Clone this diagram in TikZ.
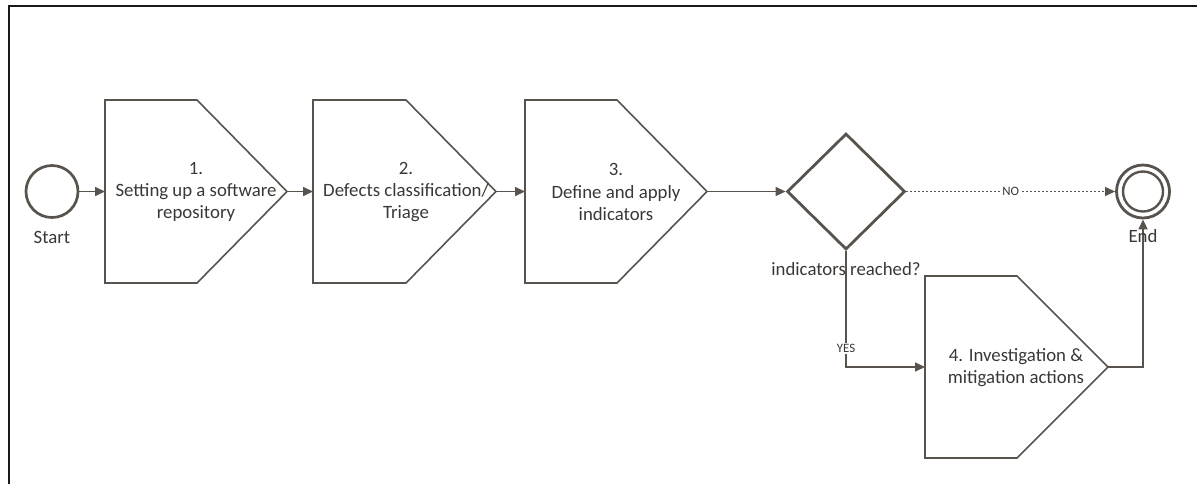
\documentclass[tikz,border=0pt]{standalone}
\usepackage{fontspec}
\setmainfont{Carlito}
\usetikzlibrary{arrows.meta,shapes.geometric}
\definecolor{ink}{RGB}{89,83,78}
\definecolor{txt}{RGB}{58,56,54}
\begin{document}
\begin{tikzpicture}[x=0.5pt,y=-0.5pt,
  every node/.style={text=txt},
  boxline/.style={draw=ink,line width=0.8pt,line join=miter},
  boxtext/.style={align=center,font=\fontsize{9.4}{11.2}\selectfont,inner sep=0pt},
  label/.style={font=\fontsize{9.4}{11.2}\selectfont,inner sep=0pt},
  tiny/.style={font=\fontsize{6.4}{7}\selectfont,fill=white,inner sep=0.6pt},
  event/.style={circle,draw=ink,line width=1.35pt,minimum size=26pt,inner sep=0pt},
  flow/.style={draw=ink,line width=0.8pt,-{Triangle[length=5pt,width=4.5pt]}},
  gate/.style={diamond,draw=ink,line width=1.4pt,minimum width=59pt,minimum height=58pt,inner sep=0pt}
]
\useasboundingbox (0,0) rectangle (1197,484);
% frame
\draw[line width=1pt,black!90] (9,484) -- (9,6) -- (1197,6);

% start / end events
\node[event] (start) at (52,191.5) {};
\node[label,anchor=base] (startlbl) at (52,243) {Start};
\node[event,minimum size=26.5pt,line width=1.4pt] (end) at (1143,191.5) {};
\node[circle,draw=ink,line width=1.2pt,minimum size=20pt,inner sep=0pt] (endin) at (end.center) {};

% process steps (pentagon arrows)
\draw[boxline] (105,100) -- (197,100) -- (287,191.5) -- (197,283) -- (105,283) -- cycle;
\coordinate (b1w) at (105,191.5); \coordinate (b1e) at (287,191.5);
\node[boxtext] (t1) at (196,192) {1.\\Setting up a software\\repository};

\draw[boxline] (313,100) -- (406,100) -- (496,191.5) -- (406,283) -- (313,283) -- cycle;
\coordinate (b2w) at (313,191.5); \coordinate (b2e) at (496,191.5);
\node[boxtext] (t2) at (406,192) {2.\\Defects classification/\\Triage};

\draw[boxline] (525,100) -- (617,100) -- (707,191.5) -- (617,283) -- (525,283) -- cycle;
\coordinate (b3w) at (525,191.5); \coordinate (b3e) at (707,191.5);
\node[boxtext] (t3) at (616,192) {3.\\Define and apply\\indicators};

\draw[boxline] (925,276) -- (1017,276) -- (1108,367) -- (1017,458) -- (925,458) -- cycle;
\coordinate (b4w) at (925,367); \coordinate (b4e) at (1108,367);
\node[boxtext] (t4) at (1016,367.5) {4. Investigation \&\\mitigation actions};

% decision
\node[gate] (dec) at (846,191.5) {};
\node[label,anchor=base] (declbl) at (846,275) {indicators reached?};

% connectors
\draw[flow] (start) -- (b1w);
\draw[flow] (b1e) -- (b2w);
\draw[flow] (b2e) -- (b3w);
\draw[flow] (b3e) -- (dec.west);
\draw[flow,line width=0.6pt,dash pattern=on 1pt off 1pt] (dec.east) -- node[tiny,pos=0.5] (no) {NO} (end.west);
\draw[flow] (dec.south) |- node[tiny,pos=0.42] (yes) {YES} (b4w);
\draw[flow] (b4e) -| (end.south);

% end label, set over the incoming line
\node[label,anchor=base] (endlbl) at (1143,242) {End};
\end{tikzpicture}
\end{document}
